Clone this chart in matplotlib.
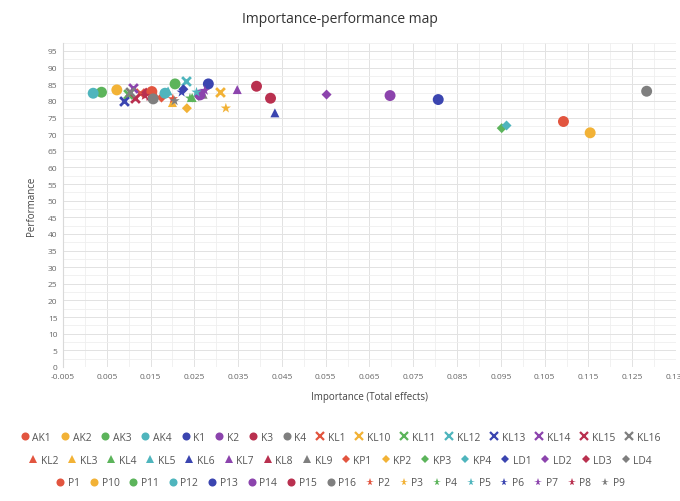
import matplotlib
matplotlib.use("Agg")
import matplotlib.pyplot as plt
import numpy as np
from matplotlib.lines import Line2D
from matplotlib.ticker import MultipleLocator, FixedLocator

plt.rcParams["font.family"] = ["Open Sans", "DejaVu Sans"]

# construct / indicator names in legend order
names = [
    "AK1", "AK2", "AK3", "AK4", "K1", "K2", "K3", "K4",
    "KL1", "KL10", "KL11", "KL12", "KL13", "KL14", "KL15", "KL16",
    "KL2", "KL3", "KL4", "KL5", "KL6", "KL7", "KL8", "KL9",
    "KP1", "KP2", "KP3", "KP4", "LD1", "LD2", "LD3", "LD4",
    "P1", "P10", "P11", "P12", "P13", "P14", "P15", "P16",
    "P2", "P3", "P4", "P5", "P6", "P7", "P8", "P9",
]

importance = [
    0.1093, 0.1154, 0.0038, 0.0019, 0.0807, 0.0697, 0.0392, 0.1283,
    0.0125, 0.0309, 0.0098, 0.0231, 0.0090, 0.0110, 0.0114, 0.0102,
    0.0160, 0.0200, 0.0245, 0.0190, 0.0434, 0.0348, 0.0150, 0.0270,
    0.0175, 0.0233, 0.0952, 0.0963, 0.0225, 0.0552, 0.0140, 0.0260,
    0.0153, 0.0073, 0.0206, 0.0183, 0.0282, 0.0263, 0.0424, 0.0156,
    0.0201, 0.0322, 0.0240, 0.0255, 0.0221, 0.0274, 0.0137, 0.0205,
]

performance = [
    73.8, 70.4, 82.6, 82.3, 80.4, 81.6, 84.4, 82.9,
    82.4, 82.6, 82.0, 86.1, 80.1, 83.8, 81.0, 82.8,
    82.0, 79.5, 81.0, 83.0, 76.4, 83.4, 81.5, 82.0,
    81.0, 77.8, 71.8, 72.6, 83.5, 81.9, 82.5, 81.5,
    82.8, 83.3, 85.1, 82.3, 85.1, 81.8, 80.8, 80.6,
    80.6, 77.8, 80.8, 82.6, 82.6, 83.1, 81.6, 80.0,
]

palette = ["#e2553f", "#f2b236", "#5cb45b", "#4fb5bd",
           "#3b45b0", "#8c44ad", "#b9304f", "#7f7f7f"]
shapes = ["o", "x", "^", "D", "o", "*"]
sizes = {"o": 62, "x": 40, "^": 42, "D": 26, "*": 60}

fig = plt.figure(figsize=(6.8, 5.02), dpi=100)
ax = fig.add_axes([0.0926, 0.267, 0.9015, 0.646])

handles = []
for i, (name, xv, yv) in enumerate(zip(names, importance, performance)):
    color = palette[i % 8]
    shape = shapes[i // 8]
    if shape == "x":
        ax.scatter(xv, yv, marker=shape, s=sizes[shape], color=color,
                   linewidths=2.0, zorder=3)
    else:
        ax.scatter(xv, yv, marker=shape, s=sizes[shape], color=color,
                   edgecolors="none", zorder=3)
    handles.append(Line2D([], [], linestyle="none", marker=shape, color=color,
                          markersize=5.8 if shape != "D" else 4.5,
                          markeredgewidth=1.6 if shape == "x" else 0,
                          label=name))

ax.set_xlim(-0.005, 0.135)
ax.set_ylim(0, 97.5)
xticks = np.arange(-0.005, 0.1351, 0.01)
ax.xaxis.set_major_locator(FixedLocator(xticks))
ax.xaxis.set_minor_locator(FixedLocator(np.arange(0.0, 0.1351, 0.01)))
ax.set_xticklabels([f"{v:.3f}" for v in xticks])
ax.yaxis.set_major_locator(MultipleLocator(5))
ax.yaxis.set_minor_locator(MultipleLocator(2.5))
ax.set_yticks(np.arange(0, 96, 5))

ax.grid(True, which="major", color="#e2e2e2", linewidth=0.7)
ax.grid(True, which="minor", color="#efefef", linewidth=0.6)
ax.set_axisbelow(True)
for side in ["top", "right", "bottom"]:
    ax.spines[side].set_visible(False)
ax.spines["left"].set_color("#d9d9d9")
ax.tick_params(which="both", length=0, labelsize=6, labelcolor="#666666", pad=4)

ax.set_xlabel("Importance (Total effects)", fontsize=7, color="#444444", labelpad=8)
ax.set_ylabel("Performance", fontsize=7, color="#444444", labelpad=8)
fig.text(0.5, 0.962, "Importance-performance map", ha="center", va="center",
         fontsize=10, color="#333333")

# three legend rows, each centred on its own
for row, yfig in enumerate([0.127, 0.081, 0.036]):
    leg = fig.legend(handles=handles[row * 16:(row + 1) * 16], ncol=16,
                     loc="center", bbox_to_anchor=(0.5, yfig), frameon=False,
                     fontsize=7.4, handlelength=1.0, handletextpad=0.25,
                     columnspacing=0.85, borderaxespad=0)
    for t in leg.get_texts():
        t.set_color("#555555")

fig.savefig("out.png", dpi=100)
